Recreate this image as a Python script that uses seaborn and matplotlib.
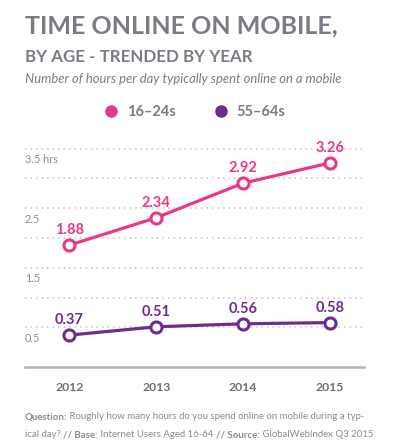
import matplotlib
matplotlib.use("Agg")
import matplotlib.pyplot as plt
from matplotlib.lines import Line2D
import seaborn as sns
import pandas as pd

years = [2012, 2013, 2014, 2015]
young = [1.88, 2.34, 2.92, 3.26]
old = [0.37, 0.51, 0.56, 0.58]
groups = ["16–24s", "55–64s"]
grid_values = [0.5, 1.0, 1.5, 2.0, 2.5, 3.0, 3.5]
ytick_labels = {3.5: "3.5 hrs", 2.5: "2.5", 1.5: "1.5", 0.5: "0.5"}

PINK = "#e8388a"
PURPLE = "#6b2d8f"
GREY = "#7b7b86"

df = pd.DataFrame({
    "Year": years * 2,
    "Hours": young + old,
    "Group": [groups[0]] * 4 + [groups[1]] * 4,
})

sns.set_theme(style="white")
plt.rcParams["font.family"] = ["Lato", "DejaVu Sans"]

fig = plt.figure(figsize=(3.93, 4.44), dpi=100)
# axes: x from 25px to 364px, y-axis bottom at 366.7px
ax = fig.add_axes([25 / 393, 77.3 / 444, 339 / 393, 233 / 444])

palette = {groups[0]: PINK, groups[1]: PURPLE}
sns.lineplot(data=df, x="Year", y="Hours", hue="Group", palette=palette,
             marker="o", markersize=8, markerfacecolor="white",
             markeredgewidth=2.2, linewidth=2.3, legend=False, ax=ax, zorder=3)
for ln in ax.lines:
    ln.set_markeredgecolor(ln.get_color())

ax.set_xlim(2011.49, 2015.39)
ax.set_ylim(-0.16, 3.75)

# dotted gridlines
ax.set_yticks(grid_values)
ax.set_yticklabels([])
ax.tick_params(axis="y", length=0)
ax.grid(axis="y", color="#c4c4c4", linestyle=(0, (1, 2.6)), linewidth=1.1)
ax.grid(axis="x", visible=False)

for v, lab in ytick_labels.items():
    ax.text(0, v - 0.09, lab, transform=ax.get_yaxis_transform(),
            ha="left", va="top", fontsize=7.8, color="#8a8a92")

for s in ["top", "left", "right"]:
    ax.spines[s].set_visible(False)
ax.spines["bottom"].set_color("#b4b4b4")
ax.spines["bottom"].set_linewidth(1.8)

ax.set_xticks(years)
ax.set_xticklabels([str(y) for y in years], fontsize=8.8, fontweight="bold", color="#6e6e78")
ax.tick_params(axis="x", length=7, width=0, pad=4)
tri = [(-1, 0), (1, 0), (0, -1.3)]
for t in ax.xaxis.get_major_ticks():
    t.tick1line.set_marker(tri)
    t.tick1line.set_markersize(7)
    t.tick1line.set_color("#b4b4b4")
    t.tick1line.set_markeredgewidth(0)
ax.set_xlabel("")
ax.set_ylabel("")

# value labels
for vals, col in [(young, PINK), (old, PURPLE)]:
    for x, v in zip(years, vals):
        ax.annotate(f"{v:.2f}", (x, v), xytext=(0, 10.8), textcoords="offset points",
                    ha="center", va="center", fontsize=10.5, fontweight="bold", color=col)

# legend
handles = [Line2D([], [], marker="o", linestyle="", markersize=8, color=PINK),
           Line2D([], [], marker="o", linestyle="", markersize=8, color=PURPLE)]
leg = fig.legend(handles, groups, loc="center", bbox_to_anchor=(0.495, 0.748), ncol=2,
                 frameon=False, handletextpad=0.6, columnspacing=2.6, handlelength=1,
                 prop={"size": 10.5, "weight": "bold"})
for t in leg.get_texts():
    t.set_color(GREY)

# titles
fig.text(25 / 393, 1 - 33 / 444, "TIME ONLINE ON MOBILE,", fontsize=18,
         fontweight="bold", color=GREY, va="baseline")
fig.text(25 / 393, 1 - 62 / 444, "BY AGE - TRENDED BY YEAR", fontsize=12.2,
         fontweight="bold", color=GREY, va="baseline")
fig.text(25 / 393, 1 - 82.7 / 444, "Number of hours per day typically spent online on a mobile",
         fontsize=9.4, style="italic", color=GREY, va="baseline")

# footnote with mixed weights
def chain(parts, x, y):
    prev = None
    for txt, bold in parts:
        kw = dict(fontsize=6.9, color="#8a8a92", fontweight="bold" if bold else "normal",
                  va="bottom", ha="left")
        if prev is None:
            prev = fig.text(x, y, txt, **kw)
        else:
            prev = ax.annotate(txt, xy=(1, 0), xycoords=prev, annotation_clip=False, **kw)

chain([("Question:", True),
       (" Roughly how many hours do you spend online on mobile during a typ-", False)],
      25 / 393, 1 - 421 / 444)
chain([("ical day? ", False), ("// Base:", True), (" Internet Users Aged 16-64 ", False),
       ("// Source:", True), (" GlobalWebIndex Q3 2015", False)],
      25 / 393, 1 - 439 / 444)

fig.savefig("out.png", dpi=100)
